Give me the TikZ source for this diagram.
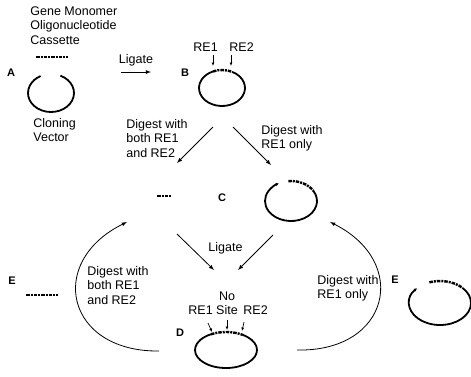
\documentclass[tikz,border=0pt]{standalone}
\usepackage{fontspec}
\setmainfont{Liberation Sans}
\usetikzlibrary{arrows.meta}
\tikzset{
  txt/.style={align=left, inner sep=0pt, anchor=north west},
  let/.style={inner sep=0pt, font=\bfseries\fontsize{11}{13}\selectfont},
  ring/.style={line width=1.8pt},
  ins/.style={line width=2.4pt, dash pattern=on 3.5pt off 1pt on 2pt off 1pt},
  tick/.style={-{Latex[length=3.5pt,width=3pt]}, line width=0.7pt},
  hook/.style={-{Latex[length=3pt,width=3.5pt]}},
}
\begin{document}
\begin{tikzpicture}[x=1pt, y=-1pt, line width=0.8pt,
  every node/.style={font=\fontsize{12.5}{14.5}\selectfont}]
\useasboundingbox (0,0) rectangle (471,376);

\node[txt] (gene) at (30,6) {Gene Monomer\\Oligonucleotide\\Cassette};
\draw[ins] (36,57) -- (68,57);
\node[let] (A) at (11,73) {A};
\draw[ring] (51,93) ++(294:23 and 19)
  arc[start angle=294, end angle=603, x radius=23, y radius=19];
\node[txt] (vec) at (33,118) {Cloning\\Vector};

\coordinate (lg1) at (121,72);
\coordinate (lg2) at (151,72);
\draw[-latex] (lg1) -- node[above=2pt]{Ligate} (lg2);

\node[let] (B) at (185,73) {B};
\node[txt] (re1) at (193,42) {RE1};
\node[txt] (re2) at (229,42) {RE2};
\coordinate (t1) at (213,55); \coordinate (s1) at (213,66);
\coordinate (t2) at (231,55); \coordinate (s2) at (231,66);
\draw[tick] (t1) -- (s1);
\draw[tick] (t2) -- (s2);
\draw[ring] (222,88) ++(296:23 and 18)
  arc[start angle=296, end angle=607, x radius=23, y radius=18];
\draw[ins] (222,88) ++(247:23 and 18)
  arc[start angle=247, end angle=296, x radius=23, y radius=18];

\coordinate (b1) at (213,127); \coordinate (f1) at (177,163);
\coordinate (b2) at (233,127); \coordinate (c1) at (271,165);
\draw[-latex] (b1) -- (f1);
\draw[-latex] (b2) -- (c1);
\node[txt] (dig1) at (126,119) {Digest with\\both RE1\\and RE2};
\node[txt] (dig2) at (261,125) {Digest with\\RE1 only};

\draw[ins, line width=2pt] (157,196) -- (172,196);
\node[let] (C) at (222,198) {C};
\draw[ring, hook] (291,201) ++(330:26 and 20)
  arc[start angle=330, end angle=602, x radius=26, y radius=20];
\draw[ins] (291,201) ++(264:26 and 20)
  arc[start angle=264, end angle=330, x radius=26, y radius=20];

\coordinate (f2) at (177,234); \coordinate (d1) at (214,270);
\coordinate (c2) at (273,235); \coordinate (d2) at (238,270);
\draw[-latex] (f2) -- (d1);
\draw[-latex] (c2) -- (d2);
\node[txt] (lig) at (208,242) {Ligate};

\node[inner sep=0pt, align=center, anchor=north] (site) at (227,291) {No\\Site};
\node[txt] (re3) at (188,305) {RE1};
\node[txt] (re4) at (243,305) {RE2};
\coordinate (t3) at (208,323); \coordinate (s3) at (212,332);
\coordinate (t4) at (227,320); \coordinate (s4) at (227,330);
\coordinate (t5) at (244,322); \coordinate (s5) at (242,331);
\draw[tick] (t3) -- (s3);
\draw[tick] (t4) -- (s4);
\draw[tick] (t5) -- (s5);
\node[let] (D) at (180,333) {D};
\draw[ring] (226,350) ++(303:31 and 18)
  arc[start angle=303, end angle=601, x radius=31, y radius=18];
\draw[ins] (226,350) ++(241:31 and 18)
  arc[start angle=241, end angle=303, x radius=31, y radius=18];

\coordinate (dl) at (159,351); \coordinate (fl) at (127,222);
\draw[-latex] (dl) .. controls (66,352) and (46,262) .. (fl);
\node[txt] (dig3) at (87,266) {Digest with\\both RE1\\and RE2};
\node[let] (E1) at (12,281) {E};
\draw[ins, line width=2pt] (26,295) -- (58,295);

\coordinate (dr) at (297,350); \coordinate (cr) at (330,222);
\draw[-latex] (dr) .. controls (390,352) and (410,262) .. (cr);
\node[txt] (dig4) at (317,275) {Digest with\\RE1 only};
\node[let] (E2) at (395,280) {E};
\draw[ring, hook] (440,303) ++(316:31 and 22)
  arc[start angle=316, end angle=582, x radius=31, y radius=22];
\draw[ins] (440,303) ++(250:31 and 22)
  arc[start angle=250, end angle=316, x radius=31, y radius=22];
\end{tikzpicture}
\end{document}
